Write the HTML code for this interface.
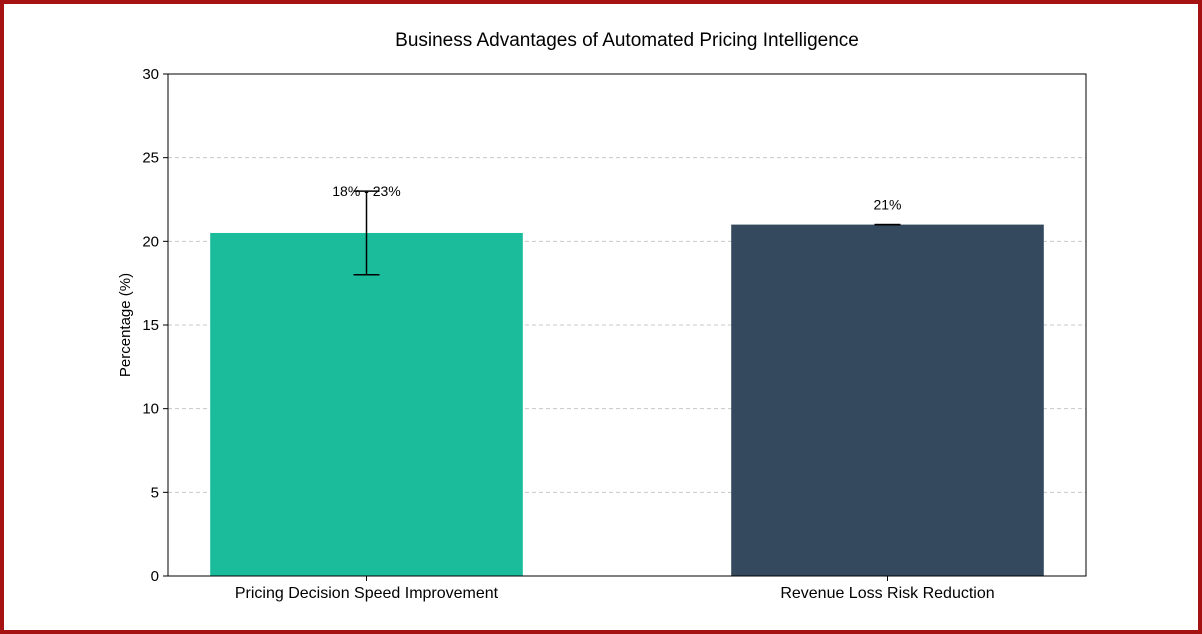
<!DOCTYPE html>
<html><head><meta charset="utf-8"><style>
body{margin:0;background:#fff}
svg{display:block}
text{font-family:"Liberation Sans",sans-serif;fill:#000}
</style></head><body>
<svg id="chart" width="1202" height="634" viewBox="0 0 1202 634">
<rect x="2" y="2" width="1198" height="630" fill="#fff" stroke="#a51212" stroke-width="4"/>
<text x="627" y="46" font-size="19" text-anchor="middle">Business Advantages of Automated Pricing Intelligence</text>
<text transform="translate(130,325) rotate(-90)" font-size="15" text-anchor="middle">Percentage (%)</text>
<g id="grid"></g><g id="bars"></g><g id="ticks"></g>
<rect x="168" y="74" width="918" height="502" fill="none" stroke="#000" stroke-width="1"/>
</svg>
<script>
const categories = ["Pricing Decision Speed Improvement", "Revenue Loss Risk Reduction"];
const values = [20.5, 21];
const lows = [18, 21];
const highs = [23, 21];
const valueLabels = ["18% - 23%", "21%"];
const yTicks = [0, 5, 10, 15, 20, 25, 30];
const colors = ["#1abc9c", "#34495e"];
const NS = "http://www.w3.org/2000/svg";
const x0 = 168, x1 = 1086, yTop = 74, yBot = 576, yMax = 30;
const xMin = -0.381, xMax = categories.length - 1 + 0.381;
const y = v => yBot - v / yMax * (yBot - yTop);
const x = i => x0 + (i - xMin) / (xMax - xMin) * (x1 - x0);
function mk(tag, attrs, parent) { const e = document.createElementNS(NS, tag); for (const k in attrs) e.setAttribute(k, attrs[k]); parent.appendChild(e); return e; }
const grid = document.getElementById('grid'), bars = document.getElementById('bars'), ticks = document.getElementById('ticks');
yTicks.forEach(t => {
  if (t > 0 && t < yMax) {
    const g = mk('line', {x1: x0, x2: x1, y1: y(t), y2: y(t), stroke: '#c8c8c8', 'stroke-dasharray': '4,3'}, grid);
    
    
  }
  const tk = mk('line', {x1: x0 - 5, x2: x0, y1: y(t), y2: y(t), stroke: '#000'}, ticks);
  
  
  const tl = mk('text', {x: x0 - 9, y: y(t) + 5, 'font-size': 15, 'text-anchor': 'end'}, ticks);
  tl.textContent = t;
  
  
});
const bw = 0.6 * (x(1) - x(0));
categories.forEach((c, i) => {
  const c0 = x(i);
  const b = mk('rect', {x: c0 - bw / 2, y: y(values[i]), width: bw, height: yBot - y(values[i]), fill: colors[i]}, bars);
  
  
  const ev = mk('line', {x1: c0, x2: c0, y1: y(lows[i]), y2: y(highs[i]), stroke: '#000', 'stroke-width': 1.5}, bars);
  
  
  [lows[i], highs[i]].forEach(v => {
    const cap = mk('line', {x1: c0 - 13, x2: c0 + 13, y1: y(v), y2: y(v), stroke: '#000', 'stroke-width': 1.5}, bars);
    
    
  });
  const vl = mk('text', {x: c0, y: y(highs[i]) + 5 - (lows[i] === highs[i] ? 20 : 0), 'font-size': 14, 'text-anchor': 'middle'}, bars);
  vl.textContent = valueLabels[i];
  
  
  const tk = mk('line', {x1: c0, x2: c0, y1: yBot, y2: yBot + 5, stroke: '#000'}, ticks);
  
  
  const xl = mk('text', {x: c0, y: yBot + 22, 'font-size': 16, 'text-anchor': 'middle'}, ticks);
  xl.textContent = c;
  
  
});
</script>
</body></html>
